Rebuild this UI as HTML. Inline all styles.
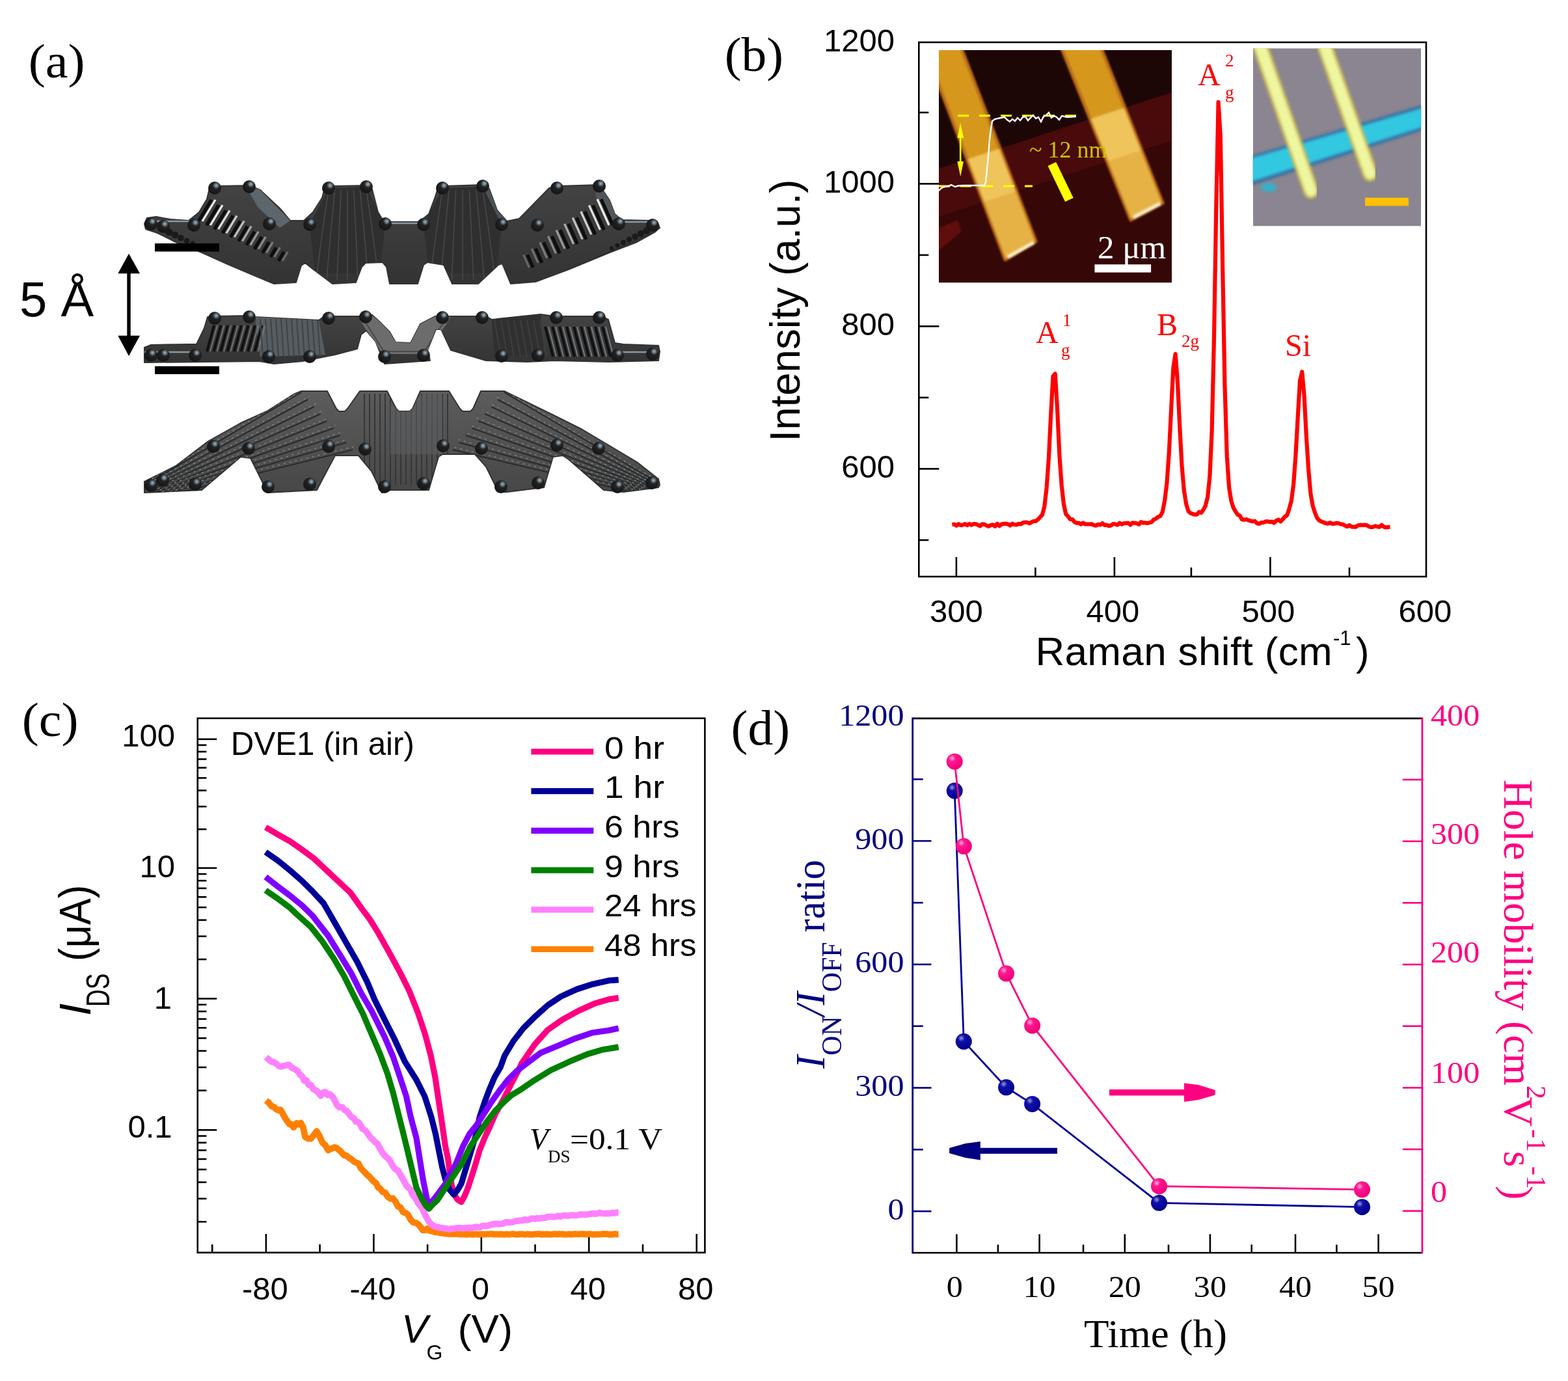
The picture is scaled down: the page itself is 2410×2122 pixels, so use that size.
<!DOCTYPE html>
<html><head><meta charset="utf-8"><title>Figure</title><style>html,body{margin:0;padding:0;background:#fff;overflow:hidden;}svg{display:block;}</style></head><body>
<svg width="2410" height="2122" viewBox="0 0 2410 2122">
<rect width="2410" height="2122" fill="#ffffff"/>
<text transform="translate(43.80,118.50) scale(1.0720,1)" font-family="'Liberation Serif', 'Times New Roman', serif" font-size="73">(a)</text>
<text x="30" y="486" font-family="'Liberation Sans', Arial, sans-serif" font-size="76">5 &#197;</text>
<defs><clipPath id="cpTop"><polygon points="222.0,344.0 226.0,335.0 240.0,333.0 262.0,337.0 290.0,339.0 306.0,326.0 318.0,306.0 322.0,289.0 330.0,286.0 384.0,285.0 393.0,289.0 400.0,292.0 430.0,320.0 446.0,339.0 467.0,339.0 481.0,326.0 495.0,304.0 499.0,289.0 505.0,286.0 563.0,285.0 572.0,291.0 581.0,326.0 587.0,336.0 600.0,341.0 644.0,341.0 659.0,329.0 669.0,302.0 673.0,289.0 680.0,286.0 742.0,284.0 752.0,290.0 764.0,323.0 779.0,340.0 798.0,336.0 844.0,289.0 856.0,286.0 921.0,284.0 937.0,308.0 945.0,329.0 956.0,338.0 1000.0,339.0 1012.0,345.0 1014.0,350.0 1006.0,357.0 979.0,372.0 937.0,388.0 874.0,414.0 823.0,433.0 785.0,436.0 772.0,405.0 766.0,407.0 735.0,436.0 695.0,436.0 682.0,407.0 657.0,403.0 651.0,407.0 642.0,436.0 599.0,436.0 594.0,410.0 588.0,403.0 562.0,404.0 556.0,410.0 547.0,434.0 511.0,436.0 479.0,412.0 469.0,404.0 463.0,408.0 455.0,434.0 421.0,436.0 390.0,423.0 350.0,406.0 310.0,388.0 270.0,372.0 242.0,358.0 224.0,352.0"/></clipPath><clipPath id="cpMid"><polygon points="222.0,534.0 232.0,530.0 290.0,529.0 302.0,529.0 314.0,504.0 319.0,487.0 330.0,486.0 384.0,485.0 392.0,487.0 490.0,492.0 497.0,487.0 505.0,486.0 551.0,486.0 563.0,485.0 572.0,484.0 581.0,492.0 599.0,510.0 608.0,526.0 631.0,527.0 646.0,498.0 669.0,486.0 688.0,486.0 747.0,486.0 756.0,491.0 831.0,483.0 852.0,486.0 924.0,486.0 935.0,491.0 945.0,527.0 958.0,529.0 1012.0,531.0 1014.0,540.0 1012.0,554.0 936.0,556.0 852.0,554.0 810.0,556.0 747.0,554.0 693.0,538.0 678.0,506.0 670.0,506.0 657.0,538.0 661.0,554.0 620.0,557.0 591.0,559.0 585.0,544.0 577.0,524.0 563.0,508.0 555.0,514.0 549.0,536.0 515.0,545.0 465.0,555.0 421.0,559.0 399.0,555.0 222.0,557.0"/></clipPath><clipPath id="cpBot"><polygon points="222.0,740.0 270.0,716.0 320.0,678.0 370.0,650.0 410.0,632.0 451.0,606.0 463.0,601.0 503.0,601.0 517.0,628.0 521.0,632.0 530.0,632.0 534.0,628.0 553.0,601.0 595.0,601.0 609.0,628.0 613.0,632.0 630.0,632.0 634.0,628.0 646.0,601.0 690.0,601.0 707.0,628.0 711.0,632.0 723.0,632.0 727.0,628.0 739.0,601.0 775.0,601.0 810.0,618.0 853.0,639.0 895.0,660.0 937.0,685.0 979.0,710.0 1012.0,736.0 1014.0,745.0 1012.0,749.0 958.0,756.0 928.0,753.0 874.0,706.0 865.0,700.0 850.0,702.0 836.0,749.0 819.0,751.0 779.0,756.0 766.0,756.0 747.0,717.0 730.0,698.0 680.0,698.0 674.0,702.0 659.0,753.0 600.0,753.0 587.0,757.0 571.0,724.0 551.0,700.0 515.0,700.0 487.0,753.0 411.0,757.0 401.0,736.0 385.0,704.0 370.0,702.0 310.0,753.0 222.0,757.0"/></clipPath><linearGradient id="lgT" x1="0" y1="0" x2="0" y2="1"><stop offset="0" stop-color="#434343"/><stop offset="1" stop-color="#333333"/></linearGradient><linearGradient id="lgB" x1="0" y1="0" x2="0" y2="1"><stop offset="0" stop-color="#5c5c5c"/><stop offset="1" stop-color="#474747"/></linearGradient><radialGradient id="atom" cx="0.62" cy="0.3" r="0.8"><stop offset="0" stop-color="#a5b8c4"/><stop offset="0.14" stop-color="#6f808c"/><stop offset="0.34" stop-color="#222222"/><stop offset="1" stop-color="#121212"/></radialGradient></defs>
<polygon points="222.0,344.0 226.0,335.0 240.0,333.0 262.0,337.0 290.0,339.0 306.0,326.0 318.0,306.0 322.0,289.0 330.0,286.0 384.0,285.0 393.0,289.0 400.0,292.0 430.0,320.0 446.0,339.0 467.0,339.0 481.0,326.0 495.0,304.0 499.0,289.0 505.0,286.0 563.0,285.0 572.0,291.0 581.0,326.0 587.0,336.0 600.0,341.0 644.0,341.0 659.0,329.0 669.0,302.0 673.0,289.0 680.0,286.0 742.0,284.0 752.0,290.0 764.0,323.0 779.0,340.0 798.0,336.0 844.0,289.0 856.0,286.0 921.0,284.0 937.0,308.0 945.0,329.0 956.0,338.0 1000.0,339.0 1012.0,345.0 1014.0,350.0 1006.0,357.0 979.0,372.0 937.0,388.0 874.0,414.0 823.0,433.0 785.0,436.0 772.0,405.0 766.0,407.0 735.0,436.0 695.0,436.0 682.0,407.0 657.0,403.0 651.0,407.0 642.0,436.0 599.0,436.0 594.0,410.0 588.0,403.0 562.0,404.0 556.0,410.0 547.0,434.0 511.0,436.0 479.0,412.0 469.0,404.0 463.0,408.0 455.0,434.0 421.0,436.0 390.0,423.0 350.0,406.0 310.0,388.0 270.0,372.0 242.0,358.0 224.0,352.0" fill="url(#lgT)" stroke="#333" stroke-width="2" stroke-linejoin="round"/>
<g clip-path="url(#cpTop)">
<polygon points="384,279 400,292 446,339 430,350 396,318 380,290" fill="#5d666c"/>
<polygon points="742,279 751,285 779,340 760,345 742,300" fill="#4c5256"/>
<polygon points="921,277 937,308 956,338 935,345 915,300" fill="#50565a"/>
<line x1="230.0" y1="356" x2="425" y2="440.0" stroke="#2b2b2b" stroke-width="1.6"/>
<line x1="1008.0" y1="356" x2="820" y2="438.0" stroke="#2b2b2b" stroke-width="1.6"/>
<line x1="231.8" y1="365" x2="425" y2="440.9" stroke="#2b2b2b" stroke-width="1.6"/>
<line x1="1006.2" y1="365" x2="820" y2="438.9" stroke="#2b2b2b" stroke-width="1.6"/>
<line x1="233.6" y1="374" x2="425" y2="441.8" stroke="#2b2b2b" stroke-width="1.6"/>
<line x1="1004.4" y1="374" x2="820" y2="439.8" stroke="#2b2b2b" stroke-width="1.6"/>
<line x1="235.4" y1="383" x2="425" y2="442.7" stroke="#2b2b2b" stroke-width="1.6"/>
<line x1="1002.6" y1="383" x2="820" y2="440.7" stroke="#2b2b2b" stroke-width="1.6"/>
<line x1="237.2" y1="392" x2="425" y2="443.6" stroke="#2b2b2b" stroke-width="1.6"/>
<line x1="1000.8" y1="392" x2="820" y2="441.6" stroke="#2b2b2b" stroke-width="1.6"/>
<line x1="239.0" y1="401" x2="425" y2="444.5" stroke="#2b2b2b" stroke-width="1.6"/>
<line x1="999.0" y1="401" x2="820" y2="442.5" stroke="#2b2b2b" stroke-width="1.6"/>
<line x1="240.8" y1="410" x2="425" y2="445.4" stroke="#2b2b2b" stroke-width="1.6"/>
<line x1="997.2" y1="410" x2="820" y2="443.4" stroke="#2b2b2b" stroke-width="1.6"/>
<line x1="242.6" y1="419" x2="425" y2="446.3" stroke="#2b2b2b" stroke-width="1.6"/>
<line x1="995.4" y1="419" x2="820" y2="444.3" stroke="#2b2b2b" stroke-width="1.6"/>
<line x1="305.0" y1="340.0" x2="325.0" y2="307.0" stroke="#0e0e0e" stroke-width="5"/>
<line x1="311.0" y1="340.0" x2="331.0" y2="307.0" stroke="#f0f0f0" stroke-width="3.2"/>
<line x1="317.3" y1="346.1" x2="336.0" y2="315.1" stroke="#0e0e0e" stroke-width="5"/>
<line x1="323.3" y1="346.1" x2="342.0" y2="315.1" stroke="#e8e8e8" stroke-width="3.2"/>
<line x1="329.6" y1="352.2" x2="347.1" y2="323.3" stroke="#0e0e0e" stroke-width="5"/>
<line x1="335.6" y1="352.2" x2="353.1" y2="323.3" stroke="#dcdcdc" stroke-width="3.2"/>
<line x1="341.9" y1="358.3" x2="358.1" y2="331.4" stroke="#0e0e0e" stroke-width="5"/>
<line x1="347.9" y1="358.3" x2="364.1" y2="331.4" stroke="#cfcfcf" stroke-width="3.2"/>
<line x1="354.2" y1="364.4" x2="369.2" y2="339.5" stroke="#0e0e0e" stroke-width="5"/>
<line x1="360.2" y1="364.4" x2="375.2" y2="339.5" stroke="#bdbdbd" stroke-width="3.2"/>
<line x1="366.5" y1="370.5" x2="380.2" y2="347.6" stroke="#0e0e0e" stroke-width="5"/>
<line x1="372.5" y1="370.5" x2="386.2" y2="347.6" stroke="#aaaaaa" stroke-width="3.2"/>
<line x1="378.8" y1="376.6" x2="391.2" y2="355.8" stroke="#0e0e0e" stroke-width="5"/>
<line x1="384.8" y1="376.6" x2="397.2" y2="355.8" stroke="#999999" stroke-width="3.2"/>
<line x1="391.1" y1="382.7" x2="402.3" y2="363.9" stroke="#0e0e0e" stroke-width="5"/>
<line x1="397.1" y1="382.7" x2="408.3" y2="363.9" stroke="#8a8a8a" stroke-width="3.2"/>
<line x1="403.4" y1="388.8" x2="413.3" y2="372.0" stroke="#0e0e0e" stroke-width="5"/>
<line x1="409.4" y1="388.8" x2="419.3" y2="372.0" stroke="#7d7d7d" stroke-width="3.2"/>
<line x1="415.7" y1="394.9" x2="424.4" y2="380.2" stroke="#0e0e0e" stroke-width="5"/>
<line x1="421.7" y1="394.9" x2="430.4" y2="380.2" stroke="#727272" stroke-width="3.2"/>
<line x1="428.0" y1="401.0" x2="436.3" y2="386.9" stroke="#0e0e0e" stroke-width="5"/>
<line x1="434.0" y1="401.0" x2="442.3" y2="386.9" stroke="#6a6a6a" stroke-width="3.2"/>
<line x1="924.0" y1="306.0" x2="942.0" y2="346.0" stroke="#0e0e0e" stroke-width="5"/>
<line x1="918.0" y1="306.0" x2="936.0" y2="346.0" stroke="#eeeeee" stroke-width="3.2"/>
<line x1="911.4" y1="315.5" x2="928.4" y2="353.2" stroke="#0e0e0e" stroke-width="5"/>
<line x1="905.4" y1="315.5" x2="922.4" y2="353.2" stroke="#e2e2e2" stroke-width="3.2"/>
<line x1="898.8" y1="325.0" x2="914.8" y2="360.4" stroke="#0e0e0e" stroke-width="5"/>
<line x1="892.8" y1="325.0" x2="908.8" y2="360.4" stroke="#d2d2d2" stroke-width="3.2"/>
<line x1="886.2" y1="334.5" x2="901.1" y2="367.7" stroke="#0e0e0e" stroke-width="5"/>
<line x1="880.2" y1="334.5" x2="895.1" y2="367.7" stroke="#c0c0c0" stroke-width="3.2"/>
<line x1="873.6" y1="344.0" x2="887.5" y2="374.9" stroke="#0e0e0e" stroke-width="5"/>
<line x1="867.6" y1="344.0" x2="881.5" y2="374.9" stroke="#adadad" stroke-width="3.2"/>
<line x1="861.0" y1="353.5" x2="873.9" y2="382.1" stroke="#0e0e0e" stroke-width="5"/>
<line x1="855.0" y1="353.5" x2="867.9" y2="382.1" stroke="#9a9a9a" stroke-width="3.2"/>
<line x1="848.4" y1="363.0" x2="860.3" y2="389.3" stroke="#0e0e0e" stroke-width="5"/>
<line x1="842.4" y1="363.0" x2="854.3" y2="389.3" stroke="#8a8a8a" stroke-width="3.2"/>
<line x1="835.8" y1="372.5" x2="846.7" y2="396.5" stroke="#0e0e0e" stroke-width="5"/>
<line x1="829.8" y1="372.5" x2="840.7" y2="396.5" stroke="#7c7c7c" stroke-width="3.2"/>
<line x1="823.2" y1="382.0" x2="833.0" y2="403.8" stroke="#0e0e0e" stroke-width="5"/>
<line x1="817.2" y1="382.0" x2="827.0" y2="403.8" stroke="#707070" stroke-width="3.2"/>
<line x1="810.6" y1="391.5" x2="819.4" y2="411.0" stroke="#0e0e0e" stroke-width="5"/>
<line x1="804.6" y1="391.5" x2="813.4" y2="411.0" stroke="#666666" stroke-width="3.2"/>
<polygon points="476,345 505,289 563,287 592,345 584,420 484,420" fill="#2f2f2f"/>
<path d="M505.0,292 Q496.0,350 486.0,430" fill="none" stroke="#484848" stroke-width="1.6"/>
<path d="M514.7,292 Q508.7,350 502.0,430" fill="none" stroke="#484848" stroke-width="1.6"/>
<path d="M524.3,292 Q521.3,350 518.0,430" fill="none" stroke="#484848" stroke-width="1.6"/>
<path d="M534.0,292 Q534.0,350 534.0,430" fill="none" stroke="#484848" stroke-width="1.6"/>
<path d="M543.7,292 Q546.7,350 550.0,430" fill="none" stroke="#484848" stroke-width="1.6"/>
<path d="M553.3,292 Q559.3,350 566.0,430" fill="none" stroke="#484848" stroke-width="1.6"/>
<path d="M563.0,292 Q572.0,350 582.0,430" fill="none" stroke="#484848" stroke-width="1.6"/>
<polygon points="651,345 680,289 742,287 771,345 763,420 659,420" fill="#2f2f2f"/>
<path d="M680.0,292 Q671.0,350 661.0,430" fill="none" stroke="#484848" stroke-width="1.6"/>
<path d="M690.3,292 Q684.3,350 677.7,430" fill="none" stroke="#484848" stroke-width="1.6"/>
<path d="M700.7,292 Q697.7,350 694.3,430" fill="none" stroke="#484848" stroke-width="1.6"/>
<path d="M711.0,292 Q711.0,350 711.0,430" fill="none" stroke="#484848" stroke-width="1.6"/>
<path d="M721.3,292 Q724.3,350 727.7,430" fill="none" stroke="#484848" stroke-width="1.6"/>
<path d="M731.7,292 Q737.7,350 744.3,430" fill="none" stroke="#484848" stroke-width="1.6"/>
<path d="M742.0,292 Q751.0,350 761.0,430" fill="none" stroke="#484848" stroke-width="1.6"/>
<line x1="222" y1="340" x2="300" y2="340" stroke="#8a98a2" stroke-width="2.5"/>
<line x1="600" y1="343" x2="645" y2="343" stroke="#8a98a2" stroke-width="2.5"/>
<line x1="955" y1="341" x2="1010" y2="341" stroke="#8a98a2" stroke-width="2.5"/>
</g>
<polygon points="222.0,534.0 232.0,530.0 290.0,529.0 302.0,529.0 314.0,504.0 319.0,487.0 330.0,486.0 384.0,485.0 392.0,487.0 490.0,492.0 497.0,487.0 505.0,486.0 551.0,486.0 563.0,485.0 572.0,484.0 581.0,492.0 599.0,510.0 608.0,526.0 631.0,527.0 646.0,498.0 669.0,486.0 688.0,486.0 747.0,486.0 756.0,491.0 831.0,483.0 852.0,486.0 924.0,486.0 935.0,491.0 945.0,527.0 958.0,529.0 1012.0,531.0 1014.0,540.0 1012.0,554.0 936.0,556.0 852.0,554.0 810.0,556.0 747.0,554.0 693.0,538.0 678.0,506.0 670.0,506.0 657.0,538.0 661.0,554.0 620.0,557.0 591.0,559.0 585.0,544.0 577.0,524.0 563.0,508.0 555.0,514.0 549.0,536.0 515.0,545.0 465.0,555.0 421.0,559.0 399.0,555.0 222.0,557.0" fill="url(#lgT)" stroke="#333" stroke-width="2" stroke-linejoin="round"/>
<g clip-path="url(#cpMid)">
<polygon points="391,479 490,492 500,545 400,548" fill="#575c60"/>
<polygon points="756,491 831,483 836,545 760,548" fill="#303030"/>
<line x1="760" y1="492" x2="770" y2="548" stroke="#3e3e3e" stroke-width="2"/>
<line x1="770" y1="492" x2="780" y2="548" stroke="#3e3e3e" stroke-width="2"/>
<line x1="780" y1="492" x2="790" y2="548" stroke="#3e3e3e" stroke-width="2"/>
<line x1="790" y1="492" x2="800" y2="548" stroke="#3e3e3e" stroke-width="2"/>
<line x1="800" y1="492" x2="810" y2="548" stroke="#3e3e3e" stroke-width="2"/>
<line x1="810" y1="492" x2="820" y2="548" stroke="#3e3e3e" stroke-width="2"/>
<line x1="820" y1="492" x2="830" y2="548" stroke="#3e3e3e" stroke-width="2"/>
<line x1="830" y1="492" x2="840" y2="548" stroke="#3e3e3e" stroke-width="2"/>
<polygon points="560,482 572,485 581,491 599,509 608,525 631,526 646,497 669,486 692,486 690,492 655,544 588,544 553,492" fill="#6c6c6c"/>
<polyline points="556,486 590,540 652,540 688,486" fill="none" stroke="#4a4a4a" stroke-width="2"/>
<line x1="318.0" y1="540" x2="329.0" y2="500" stroke="#101010" stroke-width="4"/>
<line x1="323.0" y1="540" x2="334.0" y2="500" stroke="#7a7a7a" stroke-width="1.6"/>
<line x1="328.5" y1="540" x2="339.5" y2="500" stroke="#101010" stroke-width="4"/>
<line x1="333.5" y1="540" x2="344.5" y2="500" stroke="#7a7a7a" stroke-width="1.6"/>
<line x1="339.0" y1="540" x2="350.0" y2="500" stroke="#101010" stroke-width="4"/>
<line x1="344.0" y1="540" x2="355.0" y2="500" stroke="#7a7a7a" stroke-width="1.6"/>
<line x1="349.5" y1="540" x2="360.5" y2="500" stroke="#101010" stroke-width="4"/>
<line x1="354.5" y1="540" x2="365.5" y2="500" stroke="#7a7a7a" stroke-width="1.6"/>
<line x1="360.0" y1="540" x2="371.0" y2="500" stroke="#101010" stroke-width="4"/>
<line x1="365.0" y1="540" x2="376.0" y2="500" stroke="#7a7a7a" stroke-width="1.6"/>
<line x1="370.5" y1="540" x2="381.5" y2="500" stroke="#101010" stroke-width="4"/>
<line x1="375.5" y1="540" x2="386.5" y2="500" stroke="#7a7a7a" stroke-width="1.6"/>
<line x1="381.0" y1="540" x2="392.0" y2="500" stroke="#101010" stroke-width="4"/>
<line x1="386.0" y1="540" x2="397.0" y2="500" stroke="#7a7a7a" stroke-width="1.6"/>
<line x1="391.5" y1="540" x2="402.5" y2="500" stroke="#101010" stroke-width="4"/>
<line x1="396.5" y1="540" x2="407.5" y2="500" stroke="#7a7a7a" stroke-width="1.6"/>
<line x1="838.0" y1="502" x2="850.0" y2="548" stroke="#101010" stroke-width="4"/>
<line x1="843.0" y1="502" x2="855.0" y2="548" stroke="#7e8890" stroke-width="1.6"/>
<line x1="849.0" y1="502" x2="861.0" y2="548" stroke="#101010" stroke-width="4"/>
<line x1="854.0" y1="502" x2="866.0" y2="548" stroke="#7e8890" stroke-width="1.6"/>
<line x1="860.0" y1="502" x2="872.0" y2="548" stroke="#101010" stroke-width="4"/>
<line x1="865.0" y1="502" x2="877.0" y2="548" stroke="#7e8890" stroke-width="1.6"/>
<line x1="871.0" y1="502" x2="883.0" y2="548" stroke="#101010" stroke-width="4"/>
<line x1="876.0" y1="502" x2="888.0" y2="548" stroke="#7e8890" stroke-width="1.6"/>
<line x1="882.0" y1="502" x2="894.0" y2="548" stroke="#101010" stroke-width="4"/>
<line x1="887.0" y1="502" x2="899.0" y2="548" stroke="#7e8890" stroke-width="1.6"/>
<line x1="893.0" y1="502" x2="905.0" y2="548" stroke="#101010" stroke-width="4"/>
<line x1="898.0" y1="502" x2="910.0" y2="548" stroke="#7e8890" stroke-width="1.6"/>
<line x1="904.0" y1="502" x2="916.0" y2="548" stroke="#101010" stroke-width="4"/>
<line x1="909.0" y1="502" x2="921.0" y2="548" stroke="#7e8890" stroke-width="1.6"/>
<line x1="915.0" y1="502" x2="927.0" y2="548" stroke="#101010" stroke-width="4"/>
<line x1="920.0" y1="502" x2="932.0" y2="548" stroke="#7e8890" stroke-width="1.6"/>
<line x1="926.0" y1="502" x2="938.0" y2="548" stroke="#101010" stroke-width="4"/>
<line x1="931.0" y1="502" x2="943.0" y2="548" stroke="#7e8890" stroke-width="1.6"/>
<line x1="400" y1="490" x2="404" y2="548" stroke="#3c4448" stroke-width="2"/>
<line x1="408" y1="490" x2="412" y2="548" stroke="#3c4448" stroke-width="2"/>
<line x1="416" y1="490" x2="420" y2="548" stroke="#3c4448" stroke-width="2"/>
<line x1="424" y1="490" x2="428" y2="548" stroke="#3c4448" stroke-width="2"/>
<line x1="432" y1="490" x2="436" y2="548" stroke="#3c4448" stroke-width="2"/>
<line x1="440" y1="490" x2="444" y2="548" stroke="#3c4448" stroke-width="2"/>
<line x1="448" y1="490" x2="452" y2="548" stroke="#3c4448" stroke-width="2"/>
<line x1="456" y1="490" x2="460" y2="548" stroke="#3c4448" stroke-width="2"/>
<line x1="464" y1="490" x2="468" y2="548" stroke="#3c4448" stroke-width="2"/>
<line x1="472" y1="490" x2="476" y2="548" stroke="#3c4448" stroke-width="2"/>
<line x1="480" y1="490" x2="484" y2="548" stroke="#3c4448" stroke-width="2"/>
<line x1="488" y1="490" x2="492" y2="548" stroke="#3c4448" stroke-width="2"/>
<line x1="222" y1="541" x2="300" y2="541" stroke="#8a98a2" stroke-width="2.5"/>
<line x1="950" y1="541" x2="1012" y2="541" stroke="#8a98a2" stroke-width="2.5"/>
</g>
<polygon points="222.0,740.0 270.0,716.0 320.0,678.0 370.0,650.0 410.0,632.0 451.0,606.0 463.0,601.0 503.0,601.0 517.0,628.0 521.0,632.0 530.0,632.0 534.0,628.0 553.0,601.0 595.0,601.0 609.0,628.0 613.0,632.0 630.0,632.0 634.0,628.0 646.0,601.0 690.0,601.0 707.0,628.0 711.0,632.0 723.0,632.0 727.0,628.0 739.0,601.0 775.0,601.0 810.0,618.0 853.0,639.0 895.0,660.0 937.0,685.0 979.0,710.0 1012.0,736.0 1014.0,745.0 1012.0,749.0 958.0,756.0 928.0,753.0 874.0,706.0 865.0,700.0 850.0,702.0 836.0,749.0 819.0,751.0 779.0,756.0 766.0,756.0 747.0,717.0 730.0,698.0 680.0,698.0 674.0,702.0 659.0,753.0 600.0,753.0 587.0,757.0 571.0,724.0 551.0,700.0 515.0,700.0 487.0,753.0 411.0,757.0 401.0,736.0 385.0,704.0 370.0,702.0 310.0,753.0 222.0,757.0" fill="url(#lgB)" stroke="#333" stroke-width="2" stroke-linejoin="round"/>
<g clip-path="url(#cpBot)">
<line x1="222.0" y1="746.0" x2="463.0" y2="603.0" stroke="#2a2a2a" stroke-width="2"/>
<line x1="1012.0" y1="742.0" x2="775.0" y2="603.0" stroke="#2a2a2a" stroke-width="2"/>
<line x1="226.0" y1="740.0" x2="466.0" y2="598.0" stroke="#7c8a92" stroke-width="1.3" stroke-dasharray="3,6"/>
<line x1="1008.0" y1="737.0" x2="772.0" y2="598.0" stroke="#7c8a92" stroke-width="1.3" stroke-dasharray="3,6"/>
<line x1="225.3" y1="748.2" x2="472.9" y2="614.0" stroke="#2a2a2a" stroke-width="2"/>
<line x1="1008.7" y1="744.2" x2="765.1" y2="614.0" stroke="#2a2a2a" stroke-width="2"/>
<line x1="229.3" y1="742.2" x2="475.9" y2="609.0" stroke="#7c8a92" stroke-width="1.3" stroke-dasharray="3,6"/>
<line x1="1004.7" y1="739.2" x2="762.1" y2="609.0" stroke="#7c8a92" stroke-width="1.3" stroke-dasharray="3,6"/>
<line x1="228.6" y1="750.4" x2="482.8" y2="625.0" stroke="#2a2a2a" stroke-width="2"/>
<line x1="1005.4" y1="746.4" x2="755.2" y2="625.0" stroke="#2a2a2a" stroke-width="2"/>
<line x1="232.6" y1="744.4" x2="485.8" y2="620.0" stroke="#7c8a92" stroke-width="1.3" stroke-dasharray="3,6"/>
<line x1="1001.4" y1="741.4" x2="752.2" y2="620.0" stroke="#7c8a92" stroke-width="1.3" stroke-dasharray="3,6"/>
<line x1="231.9" y1="752.6" x2="492.7" y2="636.0" stroke="#2a2a2a" stroke-width="2"/>
<line x1="1002.1" y1="748.6" x2="745.3" y2="636.0" stroke="#2a2a2a" stroke-width="2"/>
<line x1="235.9" y1="746.6" x2="495.7" y2="631.0" stroke="#7c8a92" stroke-width="1.3" stroke-dasharray="3,6"/>
<line x1="998.1" y1="743.6" x2="742.3" y2="631.0" stroke="#7c8a92" stroke-width="1.3" stroke-dasharray="3,6"/>
<line x1="235.2" y1="754.8" x2="502.6" y2="647.0" stroke="#2a2a2a" stroke-width="2"/>
<line x1="998.8" y1="750.8" x2="735.4" y2="647.0" stroke="#2a2a2a" stroke-width="2"/>
<line x1="239.2" y1="748.8" x2="505.6" y2="642.0" stroke="#7c8a92" stroke-width="1.3" stroke-dasharray="3,6"/>
<line x1="994.8" y1="745.8" x2="732.4" y2="642.0" stroke="#7c8a92" stroke-width="1.3" stroke-dasharray="3,6"/>
<line x1="238.5" y1="757.0" x2="512.5" y2="658.0" stroke="#2a2a2a" stroke-width="2"/>
<line x1="995.5" y1="753.0" x2="725.5" y2="658.0" stroke="#2a2a2a" stroke-width="2"/>
<line x1="242.5" y1="751.0" x2="515.5" y2="653.0" stroke="#7c8a92" stroke-width="1.3" stroke-dasharray="3,6"/>
<line x1="991.5" y1="748.0" x2="722.5" y2="653.0" stroke="#7c8a92" stroke-width="1.3" stroke-dasharray="3,6"/>
<line x1="241.8" y1="759.2" x2="522.4" y2="669.0" stroke="#2a2a2a" stroke-width="2"/>
<line x1="992.2" y1="755.2" x2="715.6" y2="669.0" stroke="#2a2a2a" stroke-width="2"/>
<line x1="245.8" y1="753.2" x2="525.4" y2="664.0" stroke="#7c8a92" stroke-width="1.3" stroke-dasharray="3,6"/>
<line x1="988.2" y1="750.2" x2="712.6" y2="664.0" stroke="#7c8a92" stroke-width="1.3" stroke-dasharray="3,6"/>
<line x1="245.1" y1="761.4" x2="532.3" y2="680.0" stroke="#2a2a2a" stroke-width="2"/>
<line x1="988.9" y1="757.4" x2="705.7" y2="680.0" stroke="#2a2a2a" stroke-width="2"/>
<line x1="249.1" y1="755.4" x2="535.3" y2="675.0" stroke="#7c8a92" stroke-width="1.3" stroke-dasharray="3,6"/>
<line x1="984.9" y1="752.4" x2="702.7" y2="675.0" stroke="#7c8a92" stroke-width="1.3" stroke-dasharray="3,6"/>
<line x1="248.4" y1="763.6" x2="542.2" y2="691.0" stroke="#2a2a2a" stroke-width="2"/>
<line x1="985.6" y1="759.6" x2="695.8" y2="691.0" stroke="#2a2a2a" stroke-width="2"/>
<line x1="252.4" y1="757.6" x2="545.2" y2="686.0" stroke="#7c8a92" stroke-width="1.3" stroke-dasharray="3,6"/>
<line x1="981.6" y1="754.6" x2="692.8" y2="686.0" stroke="#7c8a92" stroke-width="1.3" stroke-dasharray="3,6"/>
<line x1="560" y1="605" x2="560" y2="745" stroke="#363636" stroke-width="2"/>
<line x1="568" y1="605" x2="568" y2="745" stroke="#363636" stroke-width="2"/>
<line x1="576" y1="605" x2="576" y2="745" stroke="#363636" stroke-width="2"/>
<line x1="584" y1="605" x2="584" y2="745" stroke="#363636" stroke-width="2"/>
<line x1="592" y1="605" x2="592" y2="745" stroke="#363636" stroke-width="2"/>
<line x1="600" y1="605" x2="600" y2="745" stroke="#363636" stroke-width="2"/>
<line x1="608" y1="605" x2="608" y2="745" stroke="#363636" stroke-width="2"/>
<line x1="616" y1="605" x2="616" y2="745" stroke="#363636" stroke-width="2"/>
<line x1="624" y1="605" x2="624" y2="745" stroke="#363636" stroke-width="2"/>
<line x1="632" y1="605" x2="632" y2="745" stroke="#363636" stroke-width="2"/>
<line x1="640" y1="605" x2="640" y2="745" stroke="#363636" stroke-width="2"/>
<line x1="648" y1="605" x2="648" y2="745" stroke="#363636" stroke-width="2"/>
<line x1="656" y1="605" x2="656" y2="745" stroke="#363636" stroke-width="2"/>
<line x1="664" y1="605" x2="664" y2="745" stroke="#363636" stroke-width="2"/>
<line x1="672" y1="605" x2="672" y2="745" stroke="#363636" stroke-width="2"/>
<line x1="680" y1="605" x2="680" y2="745" stroke="#363636" stroke-width="2"/>
<line x1="688" y1="605" x2="688" y2="745" stroke="#363636" stroke-width="2"/>
<polygon points="600,620 612,630 652,605 680,605 680,698 600,698" fill="#5a5e60" opacity="0.6"/>
</g>
<circle cx="330" cy="289" r="10" fill="url(#atom)"/>
<circle cx="383" cy="287" r="10" fill="url(#atom)"/>
<circle cx="505" cy="289" r="10" fill="url(#atom)"/>
<circle cx="563" cy="287" r="10" fill="url(#atom)"/>
<circle cx="680" cy="289" r="10" fill="url(#atom)"/>
<circle cx="742" cy="286" r="10" fill="url(#atom)"/>
<circle cx="856" cy="289" r="10" fill="url(#atom)"/>
<circle cx="921" cy="286" r="10" fill="url(#atom)"/>
<circle cx="232" cy="344" r="10" fill="url(#atom)"/>
<circle cx="251" cy="348" r="10" fill="url(#atom)"/>
<circle cx="298" cy="346" r="10" fill="url(#atom)"/>
<circle cx="414" cy="344" r="10" fill="url(#atom)"/>
<circle cx="476" cy="345" r="10" fill="url(#atom)"/>
<circle cx="592" cy="344" r="10" fill="url(#atom)"/>
<circle cx="651" cy="345" r="10" fill="url(#atom)"/>
<circle cx="771" cy="345" r="10" fill="url(#atom)"/>
<circle cx="826" cy="346" r="10" fill="url(#atom)"/>
<circle cx="951" cy="344" r="10" fill="url(#atom)"/>
<circle cx="1003" cy="346" r="10" fill="url(#atom)"/>
<circle cx="330" cy="489" r="10" fill="url(#atom)"/>
<circle cx="383" cy="487" r="10" fill="url(#atom)"/>
<circle cx="505" cy="489" r="10" fill="url(#atom)"/>
<circle cx="562" cy="487" r="10" fill="url(#atom)"/>
<circle cx="680" cy="488" r="10" fill="url(#atom)"/>
<circle cx="741" cy="488" r="10" fill="url(#atom)"/>
<circle cx="855" cy="488" r="10" fill="url(#atom)"/>
<circle cx="921" cy="488" r="10" fill="url(#atom)"/>
<circle cx="232" cy="546" r="10" fill="url(#atom)"/>
<circle cx="251" cy="546" r="10" fill="url(#atom)"/>
<circle cx="300" cy="546" r="10" fill="url(#atom)"/>
<circle cx="413" cy="548" r="10" fill="url(#atom)"/>
<circle cx="476" cy="548" r="10" fill="url(#atom)"/>
<circle cx="591" cy="548" r="10" fill="url(#atom)"/>
<circle cx="651" cy="546" r="10" fill="url(#atom)"/>
<circle cx="771" cy="547" r="10" fill="url(#atom)"/>
<circle cx="827" cy="546" r="10" fill="url(#atom)"/>
<circle cx="949" cy="546" r="10" fill="url(#atom)"/>
<circle cx="1003" cy="544" r="10" fill="url(#atom)"/>
<circle cx="328" cy="686" r="10" fill="url(#atom)"/>
<circle cx="382" cy="689" r="10" fill="url(#atom)"/>
<circle cx="505" cy="686" r="10" fill="url(#atom)"/>
<circle cx="561" cy="690" r="10" fill="url(#atom)"/>
<circle cx="681" cy="685" r="10" fill="url(#atom)"/>
<circle cx="740" cy="689" r="10" fill="url(#atom)"/>
<circle cx="856" cy="684" r="10" fill="url(#atom)"/>
<circle cx="920" cy="689" r="10" fill="url(#atom)"/>
<circle cx="232" cy="746" r="10" fill="url(#atom)"/>
<circle cx="250" cy="738" r="10" fill="url(#atom)"/>
<circle cx="300" cy="744" r="10" fill="url(#atom)"/>
<circle cx="412" cy="748" r="10" fill="url(#atom)"/>
<circle cx="476" cy="744" r="10" fill="url(#atom)"/>
<circle cx="591" cy="748" r="10" fill="url(#atom)"/>
<circle cx="651" cy="743" r="10" fill="url(#atom)"/>
<circle cx="770" cy="748" r="10" fill="url(#atom)"/>
<circle cx="827" cy="742" r="10" fill="url(#atom)"/>
<circle cx="949" cy="748" r="10" fill="url(#atom)"/>
<circle cx="1002" cy="742" r="10" fill="url(#atom)"/>
<circle cx="260" cy="356.5" r="5.6" fill="#1a1a1a"/>
<circle cx="994" cy="354.5" r="5.6" fill="#1a1a1a"/>
<circle cx="269" cy="361.0" r="5.2" fill="#1a1a1a"/>
<circle cx="985" cy="359.0" r="5.2" fill="#1a1a1a"/>
<circle cx="278" cy="365.5" r="4.8" fill="#1a1a1a"/>
<circle cx="976" cy="363.5" r="4.8" fill="#1a1a1a"/>
<circle cx="287" cy="370.0" r="4.4" fill="#1a1a1a"/>
<circle cx="967" cy="368.0" r="4.4" fill="#1a1a1a"/>
<circle cx="296" cy="374.5" r="4.0" fill="#1a1a1a"/>
<circle cx="958" cy="372.5" r="4.0" fill="#1a1a1a"/>
<circle cx="305" cy="379.0" r="3.6" fill="#1a1a1a"/>
<circle cx="949" cy="377.0" r="3.6" fill="#1a1a1a"/>
<circle cx="314" cy="383.5" r="3.2" fill="#1a1a1a"/>
<circle cx="940" cy="381.5" r="3.2" fill="#1a1a1a"/>
<rect x="238" y="374" width="99" height="12.5" fill="#000"/>
<rect x="238" y="562.7" width="99" height="12.2" fill="#000"/>
<rect x="195.3" y="418" width="5.4" height="100" fill="#000"/>
<polygon points="198,389.7 215,420.3 181.3,420.3" fill="#000"/>
<polygon points="198,547.1 215,515.8 181.3,515.8" fill="#000"/>
<text transform="translate(1113.80,109.00) scale(1.0620,1)" font-family="'Liberation Serif', 'Times New Roman', serif" font-size="73">(b)</text>
<rect x="1412.3" y="65" width="779.7" height="821" fill="none" stroke="#000" stroke-width="2.6"/>
<line x1="1412.3" y1="829.9" x2="1427.3" y2="829.9" stroke="#000" stroke-width="2.6"/>
<line x1="1412.3" y1="720.4" x2="1443.3" y2="720.4" stroke="#000" stroke-width="2.6"/>
<line x1="1412.3" y1="610.9" x2="1427.3" y2="610.9" stroke="#000" stroke-width="2.6"/>
<line x1="1412.3" y1="501.4" x2="1443.3" y2="501.4" stroke="#000" stroke-width="2.6"/>
<line x1="1412.3" y1="391.9" x2="1427.3" y2="391.9" stroke="#000" stroke-width="2.6"/>
<line x1="1412.3" y1="282.4" x2="1443.3" y2="282.4" stroke="#000" stroke-width="2.6"/>
<line x1="1412.3" y1="172.9" x2="1427.3" y2="172.9" stroke="#000" stroke-width="2.6"/>
<text x="1375" y="733.9" font-family="'Liberation Sans', Arial, sans-serif" font-size="49" text-anchor="end">600</text>
<text x="1375" y="514.9" font-family="'Liberation Sans', Arial, sans-serif" font-size="49" text-anchor="end">800</text>
<text x="1375" y="295.9" font-family="'Liberation Sans', Arial, sans-serif" font-size="49" text-anchor="end">1000</text>
<text x="1375" y="78.5" font-family="'Liberation Sans', Arial, sans-serif" font-size="49" text-anchor="end">1200</text>
<line x1="1469.9" y1="886" x2="1469.9" y2="856" stroke="#000" stroke-width="2.6"/>
<line x1="1591.4" y1="886" x2="1591.4" y2="872" stroke="#000" stroke-width="2.6"/>
<line x1="1712.9" y1="886" x2="1712.9" y2="856" stroke="#000" stroke-width="2.6"/>
<line x1="1830.9" y1="886" x2="1830.9" y2="872" stroke="#000" stroke-width="2.6"/>
<line x1="1952.4" y1="886" x2="1952.4" y2="856" stroke="#000" stroke-width="2.6"/>
<line x1="2074" y1="886" x2="2074" y2="872" stroke="#000" stroke-width="2.6"/>
<text x="1469.9" y="955.5" font-family="'Liberation Sans', Arial, sans-serif" font-size="49" text-anchor="middle">300</text>
<text x="1710.5" y="955.5" font-family="'Liberation Sans', Arial, sans-serif" font-size="49" text-anchor="middle">400</text>
<text x="1949.5" y="955.5" font-family="'Liberation Sans', Arial, sans-serif" font-size="49" text-anchor="middle">500</text>
<text x="2190.5" y="955.5" font-family="'Liberation Sans', Arial, sans-serif" font-size="49" text-anchor="middle">600</text>
<text transform="translate(1228.5,477) rotate(-90)" x="0" y="0" font-family="'Liberation Sans', Arial, sans-serif" font-size="65" text-anchor="middle" textLength="403" lengthAdjust="spacingAndGlyphs">Intensity (a.u.)</text>
<text x="1591.4" y="1022" font-family="'Liberation Sans', Arial, sans-serif" font-size="62" textLength="456.3" lengthAdjust="spacing">Raman shift (cm</text>
<text x="2049" y="991" font-family="'Liberation Sans', Arial, sans-serif" font-size="31">-1</text>
<text x="2084" y="1022" font-family="'Liberation Sans', Arial, sans-serif" font-size="62">)</text>
<defs><clipPath id="afmclip"><rect x="1443" y="77" width="358" height="357.4"/></clipPath><linearGradient id="goldA" x1="0" y1="0" x2="1" y2="0"><stop offset="0" stop-color="#b8650e"/><stop offset="0.12" stop-color="#d99a22"/><stop offset="0.85" stop-color="#dea52c"/><stop offset="1" stop-color="#a85a10"/></linearGradient><filter id="blur1"><feGaussianBlur stdDeviation="1.6"/></filter></defs>
<g clip-path="url(#afmclip)">
<rect x="1443" y="77" width="358" height="357.4" fill="#360707"/>
<polygon points="1443,77 1801,77 1801,142 1443,259" fill="#1d0606"/>
<polygon points="1443,259 1801,142 1801,216 1443,333" fill="#480a0a"/>
<polygon points="1443,350 1472,338 1478,356 1443,385" fill="#5e0909" filter="url(#blur1)"/>
<defs><clipPath id="stripeclip"><polygon points="1420.0,70.0 1476.0,70.0 1592.0,371.0 1545.0,399.0"/><polygon points="1630.0,70.0 1691.0,70.0 1787.0,312.0 1738.0,338.0"/></clipPath></defs>
<g filter="url(#blur1)">
<polygon points="1420.0,70.0 1476.0,70.0 1592.0,371.0 1545.0,399.0" fill="#d6981f" stroke="#b0621a" stroke-width="5" stroke-linejoin="round"/>
<polygon points="1630.0,70.0 1691.0,70.0 1787.0,312.0 1738.0,338.0" fill="#d6981f" stroke="#b0621a" stroke-width="5" stroke-linejoin="round"/>
<g clip-path="url(#stripeclip)">
<polygon points="1443,259 1801,142 1801,216 1443,333" fill="#efc45a"/>
<polygon points="1443,333 1801,216 1801,440 1443,440" fill="#e6b244"/>
</g>
<polygon points="1420.0,70.0 1476.0,70.0 1592.0,371.0 1545.0,399.0" fill="none" stroke="#c27418" stroke-width="3" stroke-linejoin="round"/>
<polygon points="1630.0,70.0 1691.0,70.0 1787.0,312.0 1738.0,338.0" fill="none" stroke="#c27418" stroke-width="3" stroke-linejoin="round"/>
<line x1="1549" y1="395" x2="1589" y2="373" stroke="#fff0c0" stroke-width="5"/>
<line x1="1742" y1="334" x2="1783" y2="313" stroke="#fff0c0" stroke-width="5"/>
</g>
<line x1="1472" y1="177.7" x2="1654" y2="177.7" stroke="#ffff00" stroke-width="3" stroke-dasharray="17,16"/>
<line x1="1443" y1="286" x2="1587" y2="286" stroke="#ffff00" stroke-width="3" stroke-dasharray="17,16"/>
<polyline points="1443.0,293.0 1447.0,289.0 1452.0,287.0 1458.0,286.0 1462.0,284.0 1468.0,287.0 1473.0,285.5 1480.0,285.0 1490.0,285.0 1500.0,285.0 1513.0,285.0 1515.0,280.0 1517.0,260.0 1519.0,240.0 1521.0,214.0 1523.0,198.0 1525.0,186.0 1529.0,183.0 1536.0,181.5 1544.0,180.0 1548.0,184.0 1552.0,187.0 1556.0,183.0 1560.0,186.0 1564.0,181.0 1568.0,185.0 1572.0,180.0 1576.0,179.0 1580.0,185.0 1584.0,181.0 1588.0,177.0 1592.0,182.0 1596.0,180.0 1600.0,187.0 1604.0,179.0 1608.0,177.0 1612.0,173.0 1616.0,181.0 1620.0,178.0 1624.0,180.0 1628.0,184.0 1632.0,178.0 1640.0,180.0 1654.0,179.0" fill="none" stroke="#ffffff" stroke-width="2.4"/>
<line x1="1476.2" y1="200" x2="1476.2" y2="262" stroke="#ffff00" stroke-width="2.6"/>
<polygon points="1476.2,188.9 1481,212 1471.4,212" fill="#ffff00"/>
<polygon points="1476.2,271.3 1481,248 1471.4,248" fill="#ffff00"/>
<line x1="1616.8" y1="252" x2="1643.4" y2="307" stroke="#ffff00" stroke-width="14"/>
<text x="1582" y="242" font-family="'Liberation Serif', 'Times New Roman', serif" font-size="36" fill="#c9c200">~ 12 nm</text>
<text x="1687" y="397" font-family="'Liberation Serif', 'Times New Roman', serif" font-size="51" fill="#ffffff">2 &#956;m</text>
<rect x="1682.4" y="406.3" width="86.7" height="12.3" fill="#ffffff"/>
</g>
<defs><clipPath id="optclip"><rect x="1925.8" y="74.2" width="258.39999999999986" height="273.3"/></clipPath><filter id="blur2"><feGaussianBlur stdDeviation="2.2"/></filter></defs>
<g clip-path="url(#optclip)">
<rect x="1925.8" y="74.2" width="258.39999999999986" height="273.3" fill="#8a8590"/>
<polygon points="1920,240 2190,160 2190,199 1920,286" fill="#3a6fa3" filter="url(#blur2)"/>
<polygon points="1920,244 2190,165 2190,194 1920,280" fill="#30c8e2" filter="url(#blur2)"/>
<ellipse cx="1950" cy="288" rx="12" ry="7" fill="#35b0cc" filter="url(#blur2)"/>
<line x1="1933" y1="60" x2="2015" y2="293.3" stroke="#c9b85a" stroke-width="24" stroke-linecap="round" filter="url(#blur2)"/>
<line x1="1933" y1="60" x2="2015" y2="293.3" stroke="#eef7a0" stroke-width="17" stroke-linecap="round" filter="url(#blur2)"/>
<line x1="2032" y1="60" x2="2105.8" y2="266.7" stroke="#c9b85a" stroke-width="24" stroke-linecap="round" filter="url(#blur2)"/>
<line x1="2032" y1="60" x2="2105.8" y2="266.7" stroke="#eef7a0" stroke-width="17" stroke-linecap="round" filter="url(#blur2)"/>
<rect x="2098" y="303.7" width="67" height="12.6" fill="#ffc000"/>
</g>
<polyline points="1463.4,806.3 1466.7,805.5 1470.0,807.7 1473.3,805.2 1476.6,807.2 1479.9,806.5 1483.2,805.1 1486.5,807.1 1489.8,805.0 1493.1,806.7 1496.4,805.1 1499.7,805.2 1503.0,806.6 1506.3,808.4 1509.6,805.3 1512.9,805.7 1516.2,807.4 1519.5,808.8 1522.8,807.1 1526.1,806.3 1529.4,808.8 1532.7,804.7 1536.0,808.2 1539.3,805.6 1542.6,804.9 1545.9,804.7 1549.2,805.4 1552.5,807.5 1555.8,804.6 1559.1,806.2 1562.4,806.3 1565.7,804.9 1569.0,805.4 1572.3,803.0 1575.6,802.6 1578.9,802.7 1582.2,804.2 1585.5,802.3 1588.8,800.8 1592.1,800.7 1595.4,798.1 1598.7,794.5 1602.0,791.0 1605.3,778.2 1608.6,750.0 1611.9,703.7 1615.2,636.5 1618.5,578.2 1621.8,574.3 1625.1,629.1 1628.4,700.0 1631.7,746.0 1635.0,775.3 1638.3,790.0 1641.6,793.4 1644.9,798.0 1648.2,798.0 1651.5,802.2 1654.8,803.6 1658.1,803.5 1661.4,805.5 1664.7,803.5 1668.0,805.5 1671.3,805.4 1674.6,805.5 1677.9,805.2 1681.2,807.0 1684.5,807.6 1687.8,805.6 1691.1,806.6 1694.4,804.0 1697.7,806.8 1701.0,806.6 1704.3,808.1 1707.6,807.4 1710.9,805.0 1714.2,805.4 1717.5,806.6 1720.8,803.7 1724.1,805.6 1727.4,804.2 1730.7,803.9 1734.0,803.5 1737.3,806.4 1740.6,803.4 1743.9,803.7 1747.2,804.1 1750.5,805.9 1753.8,802.1 1757.1,803.3 1760.4,803.2 1763.7,804.0 1767.0,802.9 1770.3,802.0 1773.6,798.1 1776.9,796.9 1780.2,794.2 1783.5,792.8 1786.8,786.4 1790.1,769.5 1793.4,743.2 1796.7,697.2 1800.0,631.2 1803.3,565.8 1806.6,543.8 1809.9,586.0 1813.2,654.6 1816.5,715.5 1819.8,753.2 1823.1,774.1 1826.4,785.2 1829.7,788.4 1833.0,789.6 1836.3,790.7 1839.6,790.6 1842.9,786.6 1846.2,787.9 1849.5,783.4 1852.8,777.1 1856.1,763.9 1859.4,732.1 1862.7,660.8 1866.0,518.2 1869.3,317.2 1872.6,156.9 1875.9,211.0 1879.2,412.2 1882.5,593.3 1885.8,701.4 1889.1,749.3 1892.4,769.6 1895.7,780.1 1899.0,785.8 1902.3,790.9 1905.6,792.3 1908.9,798.2 1912.2,798.7 1915.5,797.9 1918.8,799.3 1922.1,800.5 1925.4,801.2 1928.7,800.6 1932.0,804.1 1935.3,805.0 1938.6,802.9 1941.9,803.0 1945.2,801.3 1948.5,801.2 1951.8,802.1 1955.1,801.5 1958.4,803.5 1961.7,799.9 1965.0,798.5 1968.3,801.4 1971.6,797.9 1974.9,793.8 1978.2,791.6 1981.5,781.9 1984.8,769.6 1988.1,744.6 1991.4,700.2 1994.7,641.4 1998.0,585.3 2001.3,571.2 2004.6,608.8 2007.9,671.3 2011.2,722.6 2014.5,759.2 2017.8,777.6 2021.1,787.8 2024.4,795.9 2027.7,799.8 2031.0,801.4 2034.3,802.7 2037.6,804.0 2040.9,804.6 2044.2,803.0 2047.5,804.9 2050.8,804.7 2054.1,803.7 2057.4,804.0 2060.7,805.4 2064.0,805.6 2067.3,807.7 2070.6,809.1 2073.9,807.0 2077.2,809.3 2080.5,809.7 2083.8,809.7 2087.1,807.2 2090.4,806.7 2093.7,806.8 2097.0,806.7 2100.3,806.8 2103.6,808.8 2106.9,810.0 2110.2,809.8 2113.5,808.3 2116.8,809.1 2120.1,809.8 2123.4,806.7 2126.7,809.3 2130.0,810.5 2133.3,809.9 2136.6,809.8" fill="none" stroke="#ff0000" stroke-width="6.2" stroke-linejoin="round"/>
<text x="1592" y="527" font-family="'Liberation Serif', 'Times New Roman', serif" font-size="48" fill="#ff0000">A</text>
<text x="1633" y="501" font-family="'Liberation Serif', 'Times New Roman', serif" font-size="27" fill="#ff0000">1</text>
<text x="1631" y="547" font-family="'Liberation Serif', 'Times New Roman', serif" font-size="27" fill="#ff0000">g</text>
<text x="1778" y="514.5" font-family="'Liberation Serif', 'Times New Roman', serif" font-size="48" fill="#ff0000">B</text>
<text x="1816" y="533" font-family="'Liberation Serif', 'Times New Roman', serif" font-size="27" fill="#ff0000">2g</text>
<text x="1841" y="131" font-family="'Liberation Serif', 'Times New Roman', serif" font-size="48" fill="#ff0000">A</text>
<text x="1883" y="102" font-family="'Liberation Serif', 'Times New Roman', serif" font-size="27" fill="#ff0000">2</text>
<text x="1883" y="151" font-family="'Liberation Serif', 'Times New Roman', serif" font-size="27" fill="#ff0000">g</text>
<text x="1975" y="546.5" font-family="'Liberation Serif', 'Times New Roman', serif" font-size="48" fill="#ff0000">Si</text>
<text transform="translate(33.80,1131.00) scale(1.0720,1)" font-family="'Liberation Serif', 'Times New Roman', serif" font-size="73">(c)</text>
<rect x="303.7" y="1103.7" width="779.7" height="821" fill="none" stroke="#000" stroke-width="2.6"/>
<line x1="303.7" y1="1877.3" x2="317.4" y2="1877.3" stroke="#000" stroke-width="2.6"/>
<line x1="303.7" y1="1841.8" x2="317.4" y2="1841.8" stroke="#000" stroke-width="2.6"/>
<line x1="303.7" y1="1816.6" x2="317.4" y2="1816.6" stroke="#000" stroke-width="2.6"/>
<line x1="303.7" y1="1797.0" x2="317.4" y2="1797.0" stroke="#000" stroke-width="2.6"/>
<line x1="303.7" y1="1781.0" x2="317.4" y2="1781.0" stroke="#000" stroke-width="2.6"/>
<line x1="303.7" y1="1767.5" x2="317.4" y2="1767.5" stroke="#000" stroke-width="2.6"/>
<line x1="303.7" y1="1755.8" x2="317.4" y2="1755.8" stroke="#000" stroke-width="2.6"/>
<line x1="303.7" y1="1745.5" x2="317.4" y2="1745.5" stroke="#000" stroke-width="2.6"/>
<line x1="303.7" y1="1736.3" x2="333.2" y2="1736.3" stroke="#000" stroke-width="2.6"/>
<line x1="303.7" y1="1675.6" x2="317.4" y2="1675.6" stroke="#000" stroke-width="2.6"/>
<line x1="303.7" y1="1640.0" x2="317.4" y2="1640.0" stroke="#000" stroke-width="2.6"/>
<line x1="303.7" y1="1614.8" x2="317.4" y2="1614.8" stroke="#000" stroke-width="2.6"/>
<line x1="303.7" y1="1595.2" x2="317.4" y2="1595.2" stroke="#000" stroke-width="2.6"/>
<line x1="303.7" y1="1579.3" x2="317.4" y2="1579.3" stroke="#000" stroke-width="2.6"/>
<line x1="303.7" y1="1565.8" x2="317.4" y2="1565.8" stroke="#000" stroke-width="2.6"/>
<line x1="303.7" y1="1554.1" x2="317.4" y2="1554.1" stroke="#000" stroke-width="2.6"/>
<line x1="303.7" y1="1543.7" x2="317.4" y2="1543.7" stroke="#000" stroke-width="2.6"/>
<line x1="303.7" y1="1534.5" x2="333.2" y2="1534.5" stroke="#000" stroke-width="2.6"/>
<line x1="303.7" y1="1474.1" x2="317.4" y2="1474.1" stroke="#000" stroke-width="2.6"/>
<line x1="303.7" y1="1438.7" x2="317.4" y2="1438.7" stroke="#000" stroke-width="2.6"/>
<line x1="303.7" y1="1413.7" x2="317.4" y2="1413.7" stroke="#000" stroke-width="2.6"/>
<line x1="303.7" y1="1394.2" x2="317.4" y2="1394.2" stroke="#000" stroke-width="2.6"/>
<line x1="303.7" y1="1378.3" x2="317.4" y2="1378.3" stroke="#000" stroke-width="2.6"/>
<line x1="303.7" y1="1364.9" x2="317.4" y2="1364.9" stroke="#000" stroke-width="2.6"/>
<line x1="303.7" y1="1353.2" x2="317.4" y2="1353.2" stroke="#000" stroke-width="2.6"/>
<line x1="303.7" y1="1343.0" x2="317.4" y2="1343.0" stroke="#000" stroke-width="2.6"/>
<line x1="303.7" y1="1333.8" x2="333.2" y2="1333.8" stroke="#000" stroke-width="2.6"/>
<line x1="303.7" y1="1274.2" x2="317.4" y2="1274.2" stroke="#000" stroke-width="2.6"/>
<line x1="303.7" y1="1239.3" x2="317.4" y2="1239.3" stroke="#000" stroke-width="2.6"/>
<line x1="303.7" y1="1214.6" x2="317.4" y2="1214.6" stroke="#000" stroke-width="2.6"/>
<line x1="303.7" y1="1195.4" x2="317.4" y2="1195.4" stroke="#000" stroke-width="2.6"/>
<line x1="303.7" y1="1179.7" x2="317.4" y2="1179.7" stroke="#000" stroke-width="2.6"/>
<line x1="303.7" y1="1166.5" x2="317.4" y2="1166.5" stroke="#000" stroke-width="2.6"/>
<line x1="303.7" y1="1155.0" x2="317.4" y2="1155.0" stroke="#000" stroke-width="2.6"/>
<line x1="303.7" y1="1144.9" x2="317.4" y2="1144.9" stroke="#000" stroke-width="2.6"/>
<line x1="303.7" y1="1135.8" x2="333.2" y2="1135.8" stroke="#000" stroke-width="2.6"/>
<text x="269" y="1146.7" font-family="'Liberation Sans', Arial, sans-serif" font-size="49" text-anchor="end">100</text>
<text x="269" y="1347.5" font-family="'Liberation Sans', Arial, sans-serif" font-size="49" text-anchor="end">10</text>
<text x="264" y="1549.5" font-family="'Liberation Sans', Arial, sans-serif" font-size="49" text-anchor="end">1</text>
<text x="264.5" y="1747.5" font-family="'Liberation Sans', Arial, sans-serif" font-size="49" text-anchor="end">0.1</text>
<line x1="326.2" y1="1924.6" x2="326.2" y2="1912.1" stroke="#000" stroke-width="2.6"/>
<line x1="408.9" y1="1924.6" x2="408.9" y2="1896.0" stroke="#000" stroke-width="2.6"/>
<line x1="491.6" y1="1924.6" x2="491.6" y2="1912.1" stroke="#000" stroke-width="2.6"/>
<line x1="574.4" y1="1924.6" x2="574.4" y2="1896.0" stroke="#000" stroke-width="2.6"/>
<line x1="657.1" y1="1924.6" x2="657.1" y2="1912.1" stroke="#000" stroke-width="2.6"/>
<line x1="739.8" y1="1924.6" x2="739.8" y2="1896.0" stroke="#000" stroke-width="2.6"/>
<line x1="822.5" y1="1924.6" x2="822.5" y2="1912.1" stroke="#000" stroke-width="2.6"/>
<line x1="905.2" y1="1924.6" x2="905.2" y2="1896.0" stroke="#000" stroke-width="2.6"/>
<line x1="988.0" y1="1924.6" x2="988.0" y2="1912.1" stroke="#000" stroke-width="2.6"/>
<line x1="1070.7" y1="1924.6" x2="1070.7" y2="1896.0" stroke="#000" stroke-width="2.6"/>
<text x="407.4" y="1996.5" font-family="'Liberation Sans', Arial, sans-serif" font-size="49" text-anchor="middle">-80</text>
<text x="572.9" y="1996.5" font-family="'Liberation Sans', Arial, sans-serif" font-size="49" text-anchor="middle">-40</text>
<text x="738.3" y="1996.5" font-family="'Liberation Sans', Arial, sans-serif" font-size="49" text-anchor="middle">0</text>
<text x="903.7" y="1996.5" font-family="'Liberation Sans', Arial, sans-serif" font-size="49" text-anchor="middle">40</text>
<text x="1069.2" y="1996.5" font-family="'Liberation Sans', Arial, sans-serif" font-size="49" text-anchor="middle">80</text>
<text x="354.8" y="1160" font-family="'Liberation Sans', Arial, sans-serif" font-size="50" textLength="282" lengthAdjust="spacingAndGlyphs">DVE1 (in air)</text>
<text x="617" y="2063.3" font-family="'Liberation Sans', Arial, sans-serif" font-size="61" font-style="italic">V</text>
<text x="655.4" y="2089.3" font-family="'Liberation Sans', Arial, sans-serif" font-size="32">G</text>
<text transform="translate(703.50,2063.30) scale(1.0400,1)" font-family="'Liberation Sans', Arial, sans-serif" font-size="61">(V)</text>
<g transform="translate(138.7,1561) rotate(-90)" font-family="'Liberation Sans', Arial, sans-serif"><text x="0" y="0" font-size="69" font-style="italic">I</text><text transform="translate(14,29.3) scale(1,1.37)" font-size="37">DS</text><text transform="translate(84,0) scale(0.89,1)" font-size="69">(&#956;A)</text></g>
<text x="814" y="1766.4" font-family="'Liberation Serif', 'Times New Roman', serif" font-size="47" font-style="italic">V</text>
<text x="842" y="1785.6" font-family="'Liberation Serif', 'Times New Roman', serif" font-size="27">DS</text>
<text x="876" y="1766.4" font-family="'Liberation Serif', 'Times New Roman', serif" font-size="47" textLength="142" lengthAdjust="spacingAndGlyphs">=0.1 V</text>
<line x1="816.4" y1="1155.0" x2="912.3" y2="1155.0" stroke="#ff0080" stroke-width="9.2"/>
<text transform="translate(929.00,1165.50) scale(1.0900,1)" font-family="'Liberation Sans', Arial, sans-serif" font-size="49">0 hr</text>
<line x1="816.4" y1="1215.7" x2="912.3" y2="1215.7" stroke="#000099" stroke-width="9.2"/>
<text transform="translate(929.00,1226.20) scale(1.0900,1)" font-family="'Liberation Sans', Arial, sans-serif" font-size="49">1 hr</text>
<line x1="816.4" y1="1276.4" x2="912.3" y2="1276.4" stroke="#8000ff" stroke-width="9.2"/>
<text transform="translate(929.00,1286.90) scale(1.0600,1)" font-family="'Liberation Sans', Arial, sans-serif" font-size="49">6 hrs</text>
<line x1="816.4" y1="1337.1" x2="912.3" y2="1337.1" stroke="#008000" stroke-width="9.2"/>
<text transform="translate(929.00,1347.60) scale(1.0600,1)" font-family="'Liberation Sans', Arial, sans-serif" font-size="49">9 hrs</text>
<line x1="816.4" y1="1397.8" x2="912.3" y2="1397.8" stroke="#ff80ff" stroke-width="9.2"/>
<text transform="translate(929.00,1408.30) scale(1.0380,1)" font-family="'Liberation Sans', Arial, sans-serif" font-size="49">24 hrs</text>
<line x1="816.4" y1="1458.5" x2="912.3" y2="1458.5" stroke="#ff8000" stroke-width="9.2"/>
<text transform="translate(929.00,1469.00) scale(1.0380,1)" font-family="'Liberation Sans', Arial, sans-serif" font-size="49">48 hrs</text>
<polyline points="408.9,1690.9 413.0,1694.3 417.8,1700.0 421.1,1700.9 424.4,1704.4 427.8,1706.0 431.1,1705.1 435.0,1712.1 440.0,1720.7 445.0,1727.5 448.1,1727.5 451.1,1732.3 456.0,1725.9 459.1,1727.8 462.2,1725.4 466.0,1732.6 468.9,1746.9 473.0,1749.4 477.8,1749.7 482.0,1744.6 486.7,1738.2 491.0,1745.5 495.6,1755.7 500.0,1759.7 504.4,1767.3 510.0,1764.7 513.9,1762.8 517.8,1764.2 523.0,1768.7 528.9,1775.1 532.5,1775.7 536.0,1778.7 540.2,1781.2 544.4,1785.2 547.7,1786.5 551.0,1787.8 554.4,1794.9 557.8,1798.2 560.9,1801.6 564.0,1805.1 567.5,1807.7 571.1,1811.9 574.5,1815.6 578.0,1817.8 581.2,1824.7 584.4,1826.2 588.2,1831.7 592.0,1832.4 596.0,1838.9 600.0,1841.8 604.0,1841.4 608.0,1846.5 611.8,1853.9 615.6,1855.4 619.3,1862.3 623.0,1863.5 627.0,1866.4 631.1,1874.0 635.0,1878.1 639.0,1878.8 642.9,1881.2 646.7,1885.8 649.9,1890.3 653.0,1890.3 656.5,1888.1 660.0,1890.9 663.1,1891.4 666.2,1892.1 669.4,1893.3 672.5,1893.5 675.6,1894.4 678.7,1894.7 681.8,1894.9 684.9,1895.7 688.0,1895.5 691.1,1896.3 694.3,1895.9 697.5,1896.2 700.7,1896.1 703.9,1896.1 707.2,1896.7 710.4,1896.6 713.6,1896.3 716.8,1896.8 720.0,1896.3 723.0,1896.4 726.1,1896.8 729.1,1896.6 732.1,1896.2 735.2,1896.9 738.2,1896.3 741.2,1896.3 744.3,1896.7 747.3,1896.4 750.4,1896.3 753.4,1896.2 756.4,1896.2 759.5,1896.6 762.5,1896.3 765.5,1896.6 768.6,1896.4 771.6,1896.5 774.6,1896.9 777.7,1896.5 780.7,1896.6 783.7,1896.8 786.8,1896.2 789.8,1896.2 792.9,1896.8 795.9,1896.8 798.9,1896.3 802.0,1896.3 805.0,1896.7 808.0,1896.9 811.1,1896.3 814.1,1896.9 817.1,1896.8 820.2,1896.6 823.2,1896.4 826.2,1896.2 829.3,1896.1 832.3,1896.9 835.4,1896.3 838.4,1896.7 841.4,1896.3 844.5,1896.8 847.5,1896.6 850.5,1896.3 853.6,1896.2 856.6,1896.7 859.6,1896.2 862.7,1896.3 865.7,1896.5 868.7,1896.8 871.8,1896.6 874.8,1896.3 877.8,1896.8 880.9,1896.3 883.9,1896.1 887.0,1896.3 890.0,1896.5 893.0,1896.1 896.1,1896.2 899.1,1896.4 902.1,1896.6 905.2,1896.2 908.2,1896.4 911.2,1896.8 914.3,1896.9 917.3,1896.6 920.3,1896.7 923.4,1896.6 926.4,1896.2 929.5,1896.1 932.5,1896.1 935.5,1896.8 938.6,1896.7 941.6,1896.9 944.6,1896.1 947.7,1896.6 950.7,1896.5" fill="none" stroke="#ff8000" stroke-width="9.8" stroke-linejoin="round"/>
<polyline points="408.9,1624.3 414.0,1628.8 417.0,1631.4 420.0,1631.6 425.0,1634.7 428.1,1637.9 431.1,1638.9 437.0,1637.5 440.7,1636.7 444.4,1636.1 448.0,1640.3 453.3,1643.0 458.0,1646.3 461.2,1651.5 464.4,1654.0 467.7,1660.7 471.0,1659.9 474.4,1667.0 477.8,1666.9 481.4,1673.3 485.0,1675.2 489.1,1678.6 493.3,1683.8 496.6,1678.8 500.0,1677.9 503.4,1682.5 506.7,1681.1 512.0,1686.0 517.8,1697.9 521.9,1701.4 526.0,1701.1 529.2,1705.3 532.4,1706.6 535.6,1710.2 539.8,1716.1 544.0,1718.4 547.1,1723.9 550.2,1723.8 553.3,1727.3 557.1,1734.5 561.0,1736.5 565.0,1741.5 568.9,1747.2 572.5,1750.7 576.0,1754.4 580.2,1757.4 584.4,1765.5 587.7,1770.9 591.0,1775.3 594.4,1778.4 597.8,1781.5 600.9,1785.9 604.0,1791.9 607.5,1796.3 611.1,1798.1 614.5,1803.7 618.0,1809.3 621.2,1815.1 624.4,1821.5 627.7,1825.0 631.0,1827.7 634.4,1836.5 637.8,1839.7 643.0,1849.1 648.9,1856.5 653.0,1865.7 657.8,1875.1 662.2,1880.5 666.7,1883.7 670.0,1885.3 673.4,1885.4 676.7,1887.1 680.0,1886.7 683.7,1887.6 687.4,1888.2 691.1,1889.1 694.6,1887.6 698.0,1887.9 701.5,1887.0 705.0,1886.6 708.2,1886.9 711.5,1887.7 714.7,1886.8 717.9,1887.6 721.2,1886.2 724.4,1887.5 727.8,1886.0 731.3,1885.2 734.7,1885.8 738.1,1885.6 741.6,1883.6 745.0,1883.6 748.4,1883.9 751.8,1882.6 755.2,1881.8 758.7,1880.8 762.1,1880.3 765.5,1880.8 768.9,1880.9 771.9,1880.5 774.9,1879.1 777.9,1877.9 781.0,1878.0 784.0,1878.4 787.0,1878.0 790.0,1877.3 793.3,1876.0 796.7,1876.0 800.0,1875.4 803.3,1875.1 806.6,1873.9 810.0,1874.6 813.3,1874.0 816.4,1872.4 819.5,1872.3 822.6,1873.0 825.7,1871.6 828.8,1872.5 831.9,1871.4 835.0,1871.4 838.3,1871.1 841.5,1869.9 844.8,1869.7 848.0,1869.4 851.3,1869.8 854.5,1869.5 857.8,1868.2 861.0,1869.3 864.1,1868.2 867.3,1867.6 870.5,1867.7 873.7,1868.4 876.8,1867.4 880.0,1867.2 883.2,1867.6 886.3,1867.4 889.5,1866.9 892.7,1866.1 895.9,1866.2 899.0,1866.5 902.2,1866.1 905.5,1865.5 908.7,1864.9 912.0,1864.7 915.2,1865.1 918.5,1864.6 921.7,1863.4 925.0,1864.4 928.2,1864.6 931.4,1864.4 934.6,1864.5 937.9,1864.4 941.1,1863.6 944.3,1864.0 947.5,1863.2 950.7,1863.3" fill="none" stroke="#ff80ff" stroke-width="9.8" stroke-linejoin="round"/>
<polyline points="408.2,1271.1 427.0,1282.3 445.8,1292.8 464.5,1305.8 483.3,1319.8 503.3,1338.6 520.9,1355.1 538.5,1371.5 556.1,1396.2 568.0,1412.0 580.0,1431.1 600.0,1466.7 615.6,1495.6 628.9,1522.2 642.2,1555.6 653.3,1588.9 662.2,1622.2 668.9,1655.6 674.0,1690.0 678.5,1720.0 684.5,1761.4 688.6,1780.6 691.1,1799.7 694.0,1820.0 698.0,1835.0 703.0,1843.0 709.0,1847.0 714.0,1838.0 719.2,1825.3 729.5,1793.4 737.1,1767.8 744.8,1748.6 752.5,1732.0 761.4,1711.6 774.2,1688.6 787.0,1663.0 797.2,1643.8 802.2,1633.3 822.2,1604.4 842.2,1582.2 864.4,1566.7 888.9,1553.3 913.3,1542.2 935.6,1535.6 950.7,1533.3" fill="none" stroke="#ff0080" stroke-width="9.2" stroke-linejoin="round"/>
<polyline points="408.2,1309.3 427.0,1322.2 445.8,1337.5 464.5,1353.9 481.0,1370.3 497.4,1388.0 513.3,1415.6 531.1,1446.7 548.9,1477.8 564.4,1508.9 575.6,1535.6 588.9,1562.2 606.0,1596.0 622.2,1631.1 640.0,1659.2 652.8,1684.7 663.0,1716.7 669.4,1742.2 674.5,1767.8 679.6,1793.4 684.7,1812.5 691.0,1828.0 697.5,1835.5 703.0,1829.0 709.0,1818.9 716.7,1793.4 724.3,1767.8 732.0,1742.2 737.1,1716.7 744.8,1693.7 752.5,1673.2 760.1,1655.3 769.1,1640.0 775.6,1622.2 788.9,1600.0 804.4,1580.0 822.2,1562.2 842.2,1544.4 862.2,1531.1 886.7,1520.0 911.1,1512.2 935.6,1506.7 950.7,1505.6" fill="none" stroke="#000099" stroke-width="9.2" stroke-linejoin="round"/>
<polyline points="408.2,1347.4 427.0,1362.1 445.8,1376.2 464.5,1391.5 480.0,1406.7 504.4,1437.8 522.2,1466.7 540.0,1495.6 555.6,1526.7 571.1,1553.3 591.1,1593.3 604.4,1624.4 615.6,1657.8 624.4,1684.4 631.1,1715.6 640.0,1748.6 645.1,1780.6 650.2,1812.5 656.6,1844.5 659.2,1849.6 665.0,1845.0 672.0,1836.0 684.7,1818.9 701.3,1787.0 711.6,1761.4 721.8,1742.2 732.0,1729.5 742.2,1714.1 755.0,1693.7 767.8,1675.8 780.6,1659.2 793.4,1646.4 804.4,1637.8 831.1,1617.8 857.8,1606.7 884.4,1595.6 911.1,1586.7 935.6,1583.3 950.7,1580.0" fill="none" stroke="#8000ff" stroke-width="9.2" stroke-linejoin="round"/>
<polyline points="408.2,1368.0 427.0,1380.9 445.8,1395.0 455.6,1404.4 477.8,1424.4 495.6,1446.7 513.3,1473.3 528.9,1500.0 544.4,1531.1 557.8,1557.8 571.1,1588.9 584.4,1620.0 595.6,1650.0 604.4,1680.0 611.1,1706.7 617.8,1733.3 624.4,1760.0 631.1,1788.0 640.0,1825.0 648.9,1843.0 655.0,1853.0 659.2,1857.3 665.0,1851.0 672.0,1844.5 684.7,1825.3 697.5,1806.1 710.3,1787.0 723.1,1761.4 735.8,1742.2 748.6,1723.1 761.4,1706.5 774.2,1693.7 787.0,1682.2 800.0,1674.5 817.8,1662.2 846.7,1644.4 875.6,1631.1 902.2,1620.0 924.4,1613.3 950.7,1608.9" fill="none" stroke="#008000" stroke-width="9.2" stroke-linejoin="round"/>
<text transform="translate(1123.60,1144.00) scale(1.0230,1)" font-family="'Liberation Serif', 'Times New Roman', serif" font-size="76">(d)</text>
<line x1="1402.7" y1="1103.9" x2="2185.9" y2="1103.9" stroke="#000" stroke-width="2.6"/>
<line x1="1402.7" y1="1925" x2="2185.9" y2="1925" stroke="#000" stroke-width="2.6"/>
<line x1="1402.7" y1="1102.6" x2="1402.7" y2="1926.3" stroke="#000080" stroke-width="2.8"/>
<line x1="2185.9" y1="1102.6" x2="2185.9" y2="1926.3" stroke="#ff0080" stroke-width="2.8"/>
<line x1="1402.7" y1="1861.2" x2="1431.5" y2="1861.2" stroke="#000080" stroke-width="2.6"/>
<line x1="1402.7" y1="1766.4" x2="1418.7" y2="1766.4" stroke="#000080" stroke-width="2.6"/>
<line x1="1402.7" y1="1671.5" x2="1431.5" y2="1671.5" stroke="#000080" stroke-width="2.6"/>
<line x1="1402.7" y1="1576.7" x2="1418.7" y2="1576.7" stroke="#000080" stroke-width="2.6"/>
<line x1="1402.7" y1="1481.9" x2="1431.5" y2="1481.9" stroke="#000080" stroke-width="2.6"/>
<line x1="1402.7" y1="1387.1" x2="1418.7" y2="1387.1" stroke="#000080" stroke-width="2.6"/>
<line x1="1402.7" y1="1292.2" x2="1431.5" y2="1292.2" stroke="#000080" stroke-width="2.6"/>
<line x1="1402.7" y1="1197.4" x2="1418.7" y2="1197.4" stroke="#000080" stroke-width="2.6"/>
<text transform="translate(1389.50,1873.70) scale(1.0900,1)" font-family="'Liberation Serif', 'Times New Roman', serif" font-size="46" text-anchor="end" fill="#000080">0</text>
<text transform="translate(1389.50,1684.04) scale(1.0900,1)" font-family="'Liberation Serif', 'Times New Roman', serif" font-size="46" text-anchor="end" fill="#000080">300</text>
<text transform="translate(1389.50,1494.38) scale(1.0900,1)" font-family="'Liberation Serif', 'Times New Roman', serif" font-size="46" text-anchor="end" fill="#000080">600</text>
<text transform="translate(1389.50,1304.72) scale(1.0900,1)" font-family="'Liberation Serif', 'Times New Roman', serif" font-size="46" text-anchor="end" fill="#000080">900</text>
<text transform="translate(1389.50,1115.06) scale(1.0900,1)" font-family="'Liberation Serif', 'Times New Roman', serif" font-size="46" text-anchor="end" fill="#000080">1200</text>
<line x1="2185.9" y1="1860.7" x2="2155.8" y2="1860.7" stroke="#ff0080" stroke-width="2.6"/>
<line x1="2185.9" y1="1766.0" x2="2155.8" y2="1766.0" stroke="#ff0080" stroke-width="2.6"/>
<line x1="2185.9" y1="1671.4" x2="2155.8" y2="1671.4" stroke="#ff0080" stroke-width="2.6"/>
<line x1="2185.9" y1="1576.7" x2="2155.8" y2="1576.7" stroke="#ff0080" stroke-width="2.6"/>
<line x1="2185.9" y1="1482.0" x2="2155.8" y2="1482.0" stroke="#ff0080" stroke-width="2.6"/>
<line x1="2185.9" y1="1387.3" x2="2155.8" y2="1387.3" stroke="#ff0080" stroke-width="2.6"/>
<line x1="2185.9" y1="1292.7" x2="2155.8" y2="1292.7" stroke="#ff0080" stroke-width="2.6"/>
<line x1="2185.9" y1="1198.0" x2="2155.8" y2="1198.0" stroke="#ff0080" stroke-width="2.6"/>
<text transform="translate(2199.00,1115.00) scale(1.0900,1)" font-family="'Liberation Serif', 'Times New Roman', serif" font-size="46" fill="#ff0080">400</text>
<text transform="translate(2199.00,1297.00) scale(1.0900,1)" font-family="'Liberation Serif', 'Times New Roman', serif" font-size="46" fill="#ff0080">300</text>
<text transform="translate(2199.00,1479.00) scale(1.0900,1)" font-family="'Liberation Serif', 'Times New Roman', serif" font-size="46" fill="#ff0080">200</text>
<text transform="translate(2199.00,1664.00) scale(1.0900,1)" font-family="'Liberation Serif', 'Times New Roman', serif" font-size="46" fill="#ff0080">100</text>
<text transform="translate(2199.00,1846.50) scale(1.0900,1)" font-family="'Liberation Serif', 'Times New Roman', serif" font-size="46" fill="#ff0080">0</text>
<line x1="1470.4" y1="1925" x2="1470.4" y2="1896.4" stroke="#000" stroke-width="2.6"/>
<line x1="1533.9" y1="1925" x2="1533.9" y2="1912.5" stroke="#000" stroke-width="2.6"/>
<line x1="1597.6" y1="1925" x2="1597.6" y2="1896.4" stroke="#000" stroke-width="2.6"/>
<line x1="1665" y1="1925" x2="1665" y2="1912.5" stroke="#000" stroke-width="2.6"/>
<line x1="1728.8" y1="1925" x2="1728.8" y2="1896.4" stroke="#000" stroke-width="2.6"/>
<line x1="1796" y1="1925" x2="1796" y2="1912.5" stroke="#000" stroke-width="2.6"/>
<line x1="1859.9" y1="1925" x2="1859.9" y2="1896.4" stroke="#000" stroke-width="2.6"/>
<line x1="1923.7" y1="1925" x2="1923.7" y2="1912.5" stroke="#000" stroke-width="2.6"/>
<line x1="1991" y1="1925" x2="1991" y2="1896.4" stroke="#000" stroke-width="2.6"/>
<line x1="2054.4" y1="1925" x2="2054.4" y2="1912.5" stroke="#000" stroke-width="2.6"/>
<line x1="2118.6" y1="1925" x2="2118.6" y2="1896.4" stroke="#000" stroke-width="2.6"/>
<text transform="translate(1467.40,1993.00) scale(1.0900,1)" font-family="'Liberation Serif', 'Times New Roman', serif" font-size="46" text-anchor="middle">0</text>
<text transform="translate(1597.60,1993.00) scale(1.0900,1)" font-family="'Liberation Serif', 'Times New Roman', serif" font-size="46" text-anchor="middle">10</text>
<text transform="translate(1728.80,1993.00) scale(1.0900,1)" font-family="'Liberation Serif', 'Times New Roman', serif" font-size="46" text-anchor="middle">20</text>
<text transform="translate(1859.90,1993.00) scale(1.0900,1)" font-family="'Liberation Serif', 'Times New Roman', serif" font-size="46" text-anchor="middle">30</text>
<text transform="translate(1991.00,1993.00) scale(1.0900,1)" font-family="'Liberation Serif', 'Times New Roman', serif" font-size="46" text-anchor="middle">40</text>
<text transform="translate(2118.60,1993.00) scale(1.0900,1)" font-family="'Liberation Serif', 'Times New Roman', serif" font-size="46" text-anchor="middle">50</text>
<text x="1666" y="2070" font-family="'Liberation Serif', 'Times New Roman', serif" font-size="62" textLength="220" lengthAdjust="spacingAndGlyphs">Time (h)</text>
<g transform="translate(1266.7,1642) rotate(-90)"><text x="0" y="0" font-family="'Liberation Serif', 'Times New Roman', serif" font-size="64" fill="#000080" textLength="321" lengthAdjust="spacingAndGlyphs"><tspan font-style="italic">I</tspan><tspan font-size="44" dy="26">ON</tspan><tspan dy="-26" font-style="italic">/I</tspan><tspan font-size="44" dy="26">OFF</tspan><tspan dy="-26"> ratio</tspan></text></g>
<g transform="translate(2312.3,1198) rotate(90)" font-family="'Liberation Serif', 'Times New Roman', serif" fill="#ff0080"><text x="0" y="0" font-size="64" textLength="470" lengthAdjust="spacingAndGlyphs">Hole mobility (cm</text><text x="470" y="-35" font-size="42">2</text><text x="487" y="0" font-size="64">V</text><text x="537" y="-35" font-size="42">-1</text><text x="570.5" y="0" font-size="64">s</text><text x="594" y="-35" font-size="42">-1</text><text x="624" y="0" font-size="64">)</text></g>
<defs><radialGradient id="gb" cx="0.35" cy="0.3" r="0.7"><stop offset="0" stop-color="#9a9ad8"/><stop offset="0.3" stop-color="#1010a8"/><stop offset="1" stop-color="#000090"/></radialGradient><radialGradient id="gp" cx="0.35" cy="0.3" r="0.7"><stop offset="0" stop-color="#ffb0d8"/><stop offset="0.3" stop-color="#ff1890"/><stop offset="1" stop-color="#f00078"/></radialGradient></defs>
<polyline points="1467.2,1215.1 1481.3,1600.3 1546.5,1670.8 1586.6,1696.4 1781.5,1848.3 2093.5,1854.7" fill="none" stroke="#000099" stroke-width="2.8"/>
<circle cx="1467.2" cy="1215.1" r="12.5" fill="url(#gb)"/>
<circle cx="1481.3" cy="1600.3" r="12.5" fill="url(#gb)"/>
<circle cx="1546.5" cy="1670.8" r="12.5" fill="url(#gb)"/>
<circle cx="1586.6" cy="1696.4" r="12.5" fill="url(#gb)"/>
<circle cx="1781.5" cy="1848.3" r="12.5" fill="url(#gb)"/>
<circle cx="2093.5" cy="1854.7" r="12.5" fill="url(#gb)"/>
<polyline points="1467.2,1170.2 1481.3,1300.3 1546.5,1495.8 1586.6,1575.9 1781.5,1822.7 2093.5,1827.8" fill="none" stroke="#ff0080" stroke-width="2.8"/>
<circle cx="1467.2" cy="1170.2" r="12.5" fill="url(#gp)"/>
<circle cx="1481.3" cy="1300.3" r="12.5" fill="url(#gp)"/>
<circle cx="1546.5" cy="1495.8" r="12.5" fill="url(#gp)"/>
<circle cx="1586.6" cy="1575.9" r="12.5" fill="url(#gp)"/>
<circle cx="1781.5" cy="1822.7" r="12.5" fill="url(#gp)"/>
<circle cx="2093.5" cy="1827.8" r="12.5" fill="url(#gp)"/>
<rect x="1705" y="1674" width="118" height="9.4" fill="#ff0080"/>
<polygon points="1820,1664.3 1842,1667 1867.6,1675 1867.6,1682.5 1842,1690 1820,1692.9" fill="#ff0080"/>
<rect x="1480" y="1763.8" width="145" height="9" fill="#000080"/>
<polygon points="1506.8,1754 1484,1757 1459.1,1764 1459.1,1772 1484,1779 1506.8,1782.5" fill="#000080"/>
</svg>
</body></html>
